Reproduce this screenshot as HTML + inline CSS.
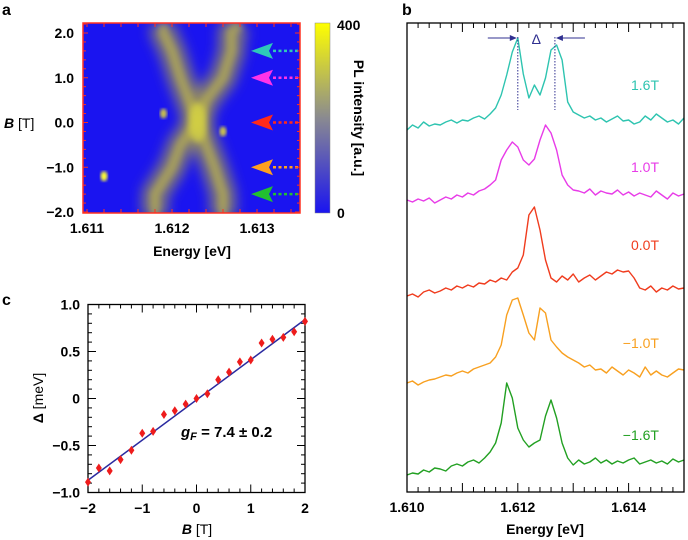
<!DOCTYPE html>
<html><head><meta charset="utf-8"><style>
body{margin:0;background:#fff;}
svg{display:block;font-family:"Liberation Sans",Arial,sans-serif;font-weight:bold;}
</style></head><body>
<svg id="fig" width="688" height="540" viewBox="0 0 688 540" xmlns="http://www.w3.org/2000/svg">
<defs>
<filter id="blur4" x="-30%" y="-30%" width="160%" height="160%"><feGaussianBlur stdDeviation="6"/></filter>
<filter id="blur3" x="-30%" y="-30%" width="160%" height="160%"><feGaussianBlur stdDeviation="3"/></filter>
<filter id="blur2"><feGaussianBlur stdDeviation="1.5"/></filter>
<linearGradient id="cbar" x1="0" y1="1" x2="0" y2="0">
<stop offset="0" stop-color="#1a14f0"/><stop offset="0.5" stop-color="#8a8a90"/><stop offset="1" stop-color="#ffff00"/></linearGradient>
<clipPath id="clipA"><rect x="83" y="23" width="217" height="190"/></clipPath>
</defs>
<g id="panelA"></g>
<g id="panelB"></g>
<g id="panelC"></g>
</svg>
<script>
// ---------- Panel a data ----------
const branchB = [2.2, 2.0, 1.6, 1.0, 0.5, 0.0, -0.5, -1.0, -1.6, -2.0, -2.1];
const branchLowE = [1.6119, 1.6119, 1.6120, 1.6121, 1.6122, 1.6123, 1.6124, 1.6125, 1.6126, 1.6126, 1.6126];
const branchHighE = [1.6128, 1.6127, 1.6127, 1.6126, 1.6124, 1.6123, 1.6121, 1.6120, 1.6118, 1.6118, 1.6118];
const spotE = [1.6112, 1.6119, 1.6126];
const spotB = [-1.2, 0.2, -0.2];
const arrowB = [1.6, 1.0, 0.0, -1.0, -1.6];
const arrowColors = ['#2ec9b8', '#ff33e8', '#ff2a1a', '#ffa020', '#22c030'];
const aYTicks = ['2.0', '1.0', '0.0', '\u22121.0', '\u22122.0'];
const aYTickVals = [2, 1, 0, -1, -2];
const aXTicks = ['1.611', '1.612', '1.613'];
const aXTickVals = [1.611, 1.612, 1.613];

// ---------- Panel b data ----------
const specLabels = ['1.6T', '1.0T', '0.0T', '\u22121.0T', '\u22121.6T'];
const specColors = ['#2ec4b0', '#e83ce8', '#f03c1e', '#f8a020', '#22a022'];
const specBase = [140, 205, 300, 385, 478];
const specLabelY = [90, 172, 250, 348, 440];
const specE0 = 1.6100, specStep = 0.0001;
const spec16 = [10,15,12,18,14,16,15,18,20,17, 20,19,22,24,21,26,32,45,65,88, 102,66,42,55,45,62,90,95,80,38, 28,25,22,24,20,22,18,21,24,19, 20,16,18,24,20,26,22,18,20,16, 22];
const spec10 = [5,3,6,4,7,2,5,8,6,10, 8,12,10,14,16,20,25,45,55,63, 58,45,40,46,65,80,72,55,30,20, 15,14,12,16,10,14,12,11,15,10, 13,9,12,10,8,14,10,6,12,9, 11];
const spec00 = [4,6,3,8,10,7,9,12,10,14, 12,15,13,17,16,20,18,22,20,28, 32,45,85,93,70,40,22,18,24,20, 26,18,22,25,20,24,28,26,30,28, 29,22,12,10,14,8,12,10,14,11, 12];
const specM10 = [2,4,0,3,5,6,8,10,9,12, 14,12,16,18,20,22,28,40,70,85, 87,70,52,45,77,72,45,38,32,28, 25,22,18,20,15,16,12,18,14,10, 15,12,8,18,10,14,10,8,12,16, 15];
const specM16 = [3,5,4,8,6,10,9,7,12,14, 12,16,18,15,20,26,35,55,95,80, 50,38,31,35,38,62,78,60,35,20, 13,18,14,16,20,15,18,14,17,15, 18,20,14,16,18,15,17,14,19,16, 18];
const bXTicks = ['1.610', '1.612', '1.614'];
const bXTickVals = [1.610, 1.612, 1.614];
const deltaE = [1.6120, 1.61267];

// ---------- Panel c data ----------
const cB = [-2.0,-1.8,-1.6,-1.4,-1.2,-1.0,-0.8,-0.6,-0.4,-0.2,0.0,0.2,0.4,0.6,0.8,1.0,1.2,1.4,1.6,1.8,2.0];
const cDelta = [-0.89,-0.74,-0.77,-0.65,-0.55,-0.37,-0.35,-0.17,-0.13,-0.06,0.0,0.05,0.20,0.28,0.39,0.41,0.59,0.63,0.65,0.71,0.82];
const cFitB = [-2, 2];
const cFitD = [-0.87, 0.84];
const cXTicks = ['\u22122', '\u22121', '0', '1', '2'];
const cXTickVals = [-2, -1, 0, 1, 2];
const cYTicks = ['1.0', '0.5', '0', '\u22120.5', '\u22121.0'];
const cYTickVals = [1, 0.5, 0, -0.5, -1];

const NS = 'http://www.w3.org/2000/svg';
function mk(parent, tag, attrs, text) {
  const e = document.createElementNS(NS, tag);
  for (const k in attrs) e.setAttribute(k, attrs[k]);
  if (text !== undefined) e.textContent = text;
  parent.appendChild(e);
  return e;
}

// ===== Panel A =====
const A = document.getElementById('panelA');
const ax = e => 87 + (e - 1.611) * 85000;
const ay = b => 122.5 - b * 44.75;
let t = mk(A, 'text', {x: 2, y: 15, 'font-size': 16}, 'a');
 
let bg = mk(A, 'rect', {x: 83, y: 23, width: 217, height: 190, fill: '#1a14f0'});
 
const hm = mk(A, 'g', {'clip-path': 'url(#clipA)'});
 
const blurG = mk(hm, 'g', {filter: 'url(#blur4)'});
[branchLowE, branchHighE].forEach((arr, i) => {
  const pts = branchB.map((b, j) => ax(arr[j]) + ',' + ay(b)).join(' ');
  const p = mk(blurG, 'polyline', {points: pts, fill: 'none', stroke: '#a8a048', 'stroke-width': 26, 'stroke-opacity': 0.7});
   
});
const core = mk(hm, 'g', {filter: 'url(#blur3)'});
[branchLowE, branchHighE].forEach((arr, i) => {
  const pts = branchB.map((b, j) => ax(arr[j]) + ',' + ay(b)).join(' ');
  const p = mk(core, 'polyline', {points: pts, fill: 'none', stroke: '#c8c040', 'stroke-width': 10, 'stroke-opacity': 0.5});
   
});
let glow = mk(hm, 'ellipse', {cx: ax(1.6123), cy: ay(0), rx: 9, ry: 20, fill: '#e0e040', 'fill-opacity': 0.6, filter: 'url(#blur3)'});
 
spotE.forEach((e, i) => {
  const s = mk(hm, 'ellipse', {cx: ax(e), cy: ay(spotB[i]), rx: 3.5, ry: 5, fill: i === 0 ? '#ffff30' : '#c8c050', filter: 'url(#blur2)'});
   
});
arrowB.forEach((b, i) => {
  const y = ay(b);
  const g = mk(A, 'g', {});
   
  mk(g, 'polygon', {points: `251,${y} 273,${y-8} 269,${y} 273,${y+8}`, fill: arrowColors[i]});
  mk(g, 'line', {x1: 273, y1: y, x2: 299, y2: y, stroke: arrowColors[i], 'stroke-width': 2.5, 'stroke-dasharray': '3,2.5'});
});
let fr = mk(A, 'rect', {x: 83, y: 23, width: 217, height: 190, fill: 'none', stroke: '#ff3020', 'stroke-width': 1.5});
 
for (let b = -2.0; b <= 2.21; b += 0.2) {
  const y = ay(b), L = Math.abs(Math.round(b*10)) % 10 === 0 ? 5 : 3;
  mk(A, 'line', {x1: 83, y1: y, x2: 83+L, y2: y, stroke: '#ff3020', 'stroke-width': 1});
  mk(A, 'line', {x1: 300, y1: y, x2: 300-L, y2: y, stroke: '#ff3020', 'stroke-width': 1});
}
for (let e = 1.6110; e <= 1.6135; e += 0.0002) {
  const x = ax(e);
  if (x < 83 || x > 300) continue;
  mk(A, 'line', {x1: x, y1: 213, x2: x, y2: 209, stroke: '#ff3020', 'stroke-width': 1});
  mk(A, 'line', {x1: x, y1: 23, x2: x, y2: 27, stroke: '#ff3020', 'stroke-width': 1});
}
aYTicks.forEach((s, i) => {
  const tt = mk(A, 'text', {x: 74, y: ay(aYTickVals[i]) + 5, 'font-size': 14, 'text-anchor': 'end'}, s);
   
});
aXTicks.forEach((s, i) => {
  const tt = mk(A, 'text', {x: ax(aXTickVals[i]), y: 233, 'font-size': 14, 'text-anchor': 'middle'}, s);
   
});
t = mk(A, 'text', {x: 192, y: 256, 'font-size': 14, 'text-anchor': 'middle'}, 'Energy [eV]');
 
t = mk(A, 'text', {x: 4, y: 128, 'font-size': 14});
 
mk(t, 'tspan', {'font-style': 'italic'}, 'B');
mk(t, 'tspan', {'font-weight': 'normal'}, ' [T]');
let cb = mk(A, 'rect', {x: 315, y: 23, width: 15, height: 190, fill: 'url(#cbar)', stroke: '#888', 'stroke-width': 0.5});
 
t = mk(A, 'text', {x: 337, y: 30, 'font-size': 14}, '400');
 
t = mk(A, 'text', {x: 337, y: 218, 'font-size': 14}, '0');
 
t = mk(A, 'text', {x: 0, y: 0, 'font-size': 14, 'text-anchor': 'middle', transform: 'translate(354,118) rotate(90)'}, 'PL intensity [a.u.]');
 

// ===== Panel B =====
const Bp = document.getElementById('panelB');
const bx = e => 407 + (e - 1.610) * 55400;
t = mk(Bp, 'text', {x: 402, y: 15, 'font-size': 16}, 'b');
 
const specs = [spec16, spec10, spec00, specM10, specM16];
specs.forEach((arr, i) => {
  const pts = arr.map((v, j) => bx(specE0 + j*specStep).toFixed(1) + ',' + (specBase[i] - v).toFixed(1)).join(' ');
  const p = mk(Bp, 'polyline', {points: pts, fill: 'none', stroke: specColors[i], 'stroke-width': 1.4, 'stroke-linejoin': 'round'});
  
  
  const l = mk(Bp, 'text', {x: 659, y: specLabelY[i], 'font-size': 14, 'font-weight': 'normal', fill: specColors[i], 'text-anchor': 'end'}, specLabels[i]);
   
});
const dg = mk(Bp, 'g', {});
 
const x1 = bx(deltaE[0]), x2 = bx(deltaE[1]);
mk(dg, 'line', {x1: x1, y1: 37, x2: x1, y2: 110, stroke: '#303090', 'stroke-width': 1, 'stroke-dasharray': '1.5,1.5'});
mk(dg, 'line', {x1: x2, y1: 37, x2: x2, y2: 110, stroke: '#303090', 'stroke-width': 1, 'stroke-dasharray': '1.5,1.5'});
mk(dg, 'line', {x1: x1 - 30, y1: 38, x2: x1 - 3, y2: 38, stroke: '#303090', 'stroke-width': 1});
mk(dg, 'polygon', {points: `${x1-1},38 ${x1-8},35 ${x1-8},41`, fill: '#303090'});
mk(dg, 'line', {x1: x2 + 3, y1: 38, x2: x2 + 30, y2: 38, stroke: '#303090', 'stroke-width': 1});
mk(dg, 'polygon', {points: `${x2+1},38 ${x2+8},35 ${x2+8},41`, fill: '#303090'});
mk(dg, 'text', {x: (x1+x2)/2, y: 44, 'font-size': 14, 'font-weight': 'normal', fill: '#303090', 'text-anchor': 'middle'}, '\u0394');
fr = mk(Bp, 'rect', {x: 407, y: 23, width: 277, height: 469, fill: 'none', stroke: '#000', 'stroke-width': 1.3});
 
for (let k = 0; k <= 25; k++) {
  const e = 1.610 + k*0.0002, x = bx(e);
  const L = k % 5 === 0 ? 9 : 5;
  mk(Bp, 'line', {x1: x, y1: 23, x2: x, y2: 23+L, stroke: '#000', 'stroke-width': 1});
  mk(Bp, 'line', {x1: x, y1: 492, x2: x, y2: 492-L, stroke: '#000', 'stroke-width': 1});
}
bXTicks.forEach((s, i) => {
  const tt = mk(Bp, 'text', {x: bx(bXTickVals[i]), y: 512, 'font-size': 14, 'text-anchor': 'middle'}, s);
   
});
t = mk(Bp, 'text', {x: 545, y: 534, 'font-size': 14, 'text-anchor': 'middle'}, 'Energy [eV]');
 

// ===== Panel C =====
const C = document.getElementById('panelC');
const cx = b => 88 + (b + 2) / 4 * 217;
const cy = d => 398.5 - d * 94;
t = mk(C, 'text', {x: 2, y: 305, 'font-size': 16}, 'c');
 
fr = mk(C, 'rect', {x: 88, y: 304.5, width: 217, height: 188, fill: 'none', stroke: '#000', 'stroke-width': 1.3});
 
for (let k = 0; k <= 20; k++) {
  const x = cx(-2 + k*0.2), L = k % 5 === 0 ? 8 : 4;
  mk(C, 'line', {x1: x, y1: 492.5, x2: x, y2: 492.5-L, stroke: '#000', 'stroke-width': 1});
  mk(C, 'line', {x1: x, y1: 304.5, x2: x, y2: 304.5+L, stroke: '#000', 'stroke-width': 1});
}
for (let k = 0; k <= 20; k++) {
  const y = cy(-1 + k*0.1), L = k % 5 === 0 ? 8 : 4;
  mk(C, 'line', {x1: 88, y1: y, x2: 88+L, y2: y, stroke: '#000', 'stroke-width': 1});
  mk(C, 'line', {x1: 305, y1: y, x2: 305-L, y2: y, stroke: '#000', 'stroke-width': 1});
}
let fit = mk(C, 'line', {x1: cx(cFitB[0]), y1: cy(cFitD[0]), x2: cx(cFitB[1]), y2: cy(cFitD[1]), stroke: '#2a2aa0', 'stroke-width': 1.5});
 
cB.forEach((b, i) => {
  const x = cx(b), y = cy(cDelta[i]);
  const d = mk(C, 'polygon', {points: `${x},${y-4.5} ${x+3},${y} ${x},${y+4.5} ${x-3},${y}`, fill: '#ee1c1c'});
   
});
cXTicks.forEach((s, i) => {
  const tt = mk(C, 'text', {x: cx(cXTickVals[i]), y: 513, 'font-size': 14, 'text-anchor': 'middle'}, s);
   
});
cYTicks.forEach((s, i) => {
  const tt = mk(C, 'text', {x: 80, y: cy(cYTickVals[i]) + 5, 'font-size': 14, 'text-anchor': 'end'}, s);
   
});
t = mk(C, 'text', {x: 197, y: 534, 'font-size': 14, 'text-anchor': 'middle'});
 
mk(t, 'tspan', {'font-style': 'italic'}, 'B');
mk(t, 'tspan', {'font-weight': 'normal'}, ' [T]');
t = mk(C, 'text', {x: 0, y: 0, 'font-size': 14, 'text-anchor': 'middle', transform: 'translate(43,398) rotate(-90)'});
 
mk(t, 'tspan', {}, '\u0394');
mk(t, 'tspan', {'font-weight': 'normal'}, ' [meV]');
t = mk(C, 'text', {x: 181, y: 437, 'font-size': 15});
 
mk(t, 'tspan', {'font-style': 'italic'}, 'g');
mk(t, 'tspan', {'font-style': 'italic', 'font-size': 11, dy: 3}, 'F');
mk(t, 'tspan', {dy: -3}, ' = 7.4 \u00b1 0.2');
</script>
</body></html>
